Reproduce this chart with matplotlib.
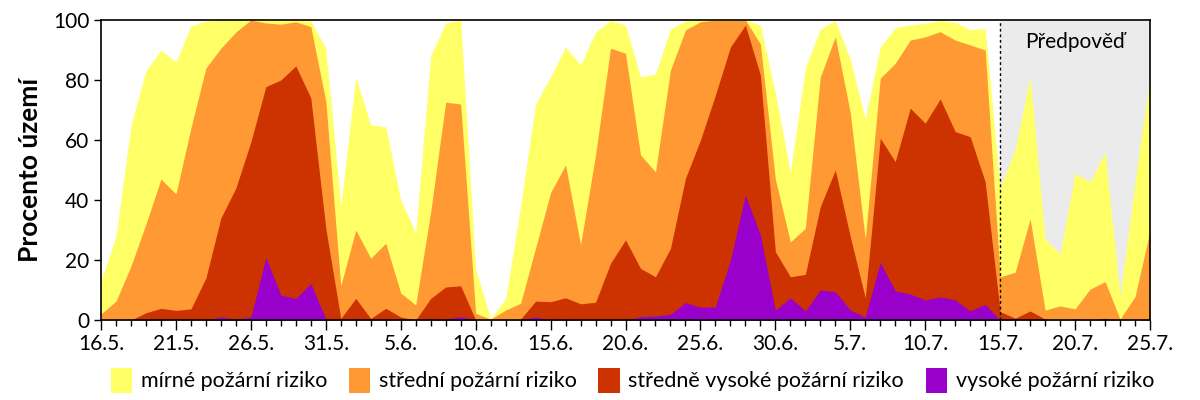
import matplotlib
matplotlib.use("Agg")
import matplotlib.pyplot as plt
from matplotlib.patches import Patch
import numpy as np

plt.rcParams['font.family'] = ['Lato', 'DejaVu Sans']

# days from 16.5. (index 0) to 25.7. (index 70)
days = list(range(71))
tick_days = [0, 5, 10, 15, 20, 25, 30, 35, 40, 45, 50, 55, 60, 65, 70]
tick_labels = ["16.5.", "21.5.", "26.5.", "31.5.", "5.6.", "10.6.", "15.6.", "20.6.",
               "25.6.", "30.6.", "5.7.", "10.7.", "15.7.", "20.7.", "25.7."]
forecast_start = 60

# cumulative percentage of territory with at least the given risk level
mirne = [13, 28, 65, 83, 90, 86, 98, 99.7, 100, 100,
         100, 100, 100, 100, 99.7, 90.6, 38, 81, 65, 64.4,
         40, 29, 88, 99, 100, 17, 0.5, 7, 38, 72,
         81, 91, 85, 96, 99.8, 98.3, 81, 82, 97, 99.7,
         100, 100, 100, 100, 98.3, 75.6, 49, 84, 97, 99.7,
         87, 67, 91, 97.4, 98.3, 98.9, 99.8, 99.2, 96.7, 97.2,
         44, 57, 81, 27, 22, 49, 46, 56, 8, 46, 81]
stredni = [2, 6.3, 18, 32, 47, 42, 64, 84, 90.6, 96,
           100, 99, 98.6, 99.4, 97.8, 73, 11.4, 30, 20.6, 25.6,
           9, 5, 36, 72.6, 72, 2.2, 0.3, 3.3, 5.6, 24,
           42.5, 51.7, 25, 55, 90.6, 88.9, 55, 49.4, 83.3, 96.7,
           99.4, 100, 100, 100, 92, 47, 26, 30.6, 81, 94.4,
           69, 27, 80.6, 85.6, 93.3, 94.4, 96.1, 93.3, 91.7, 90,
           14.4, 15.9, 33.7, 3.3, 4.7, 3.7, 10.3, 12.8, 0.3, 7.8, 29.7]
stredne_vysoke = [0, 0, 0, 2.4, 3.9, 3.2, 3.7, 14, 34, 44,
                  59.4, 77.8, 80, 84.7, 74, 30.6, 0.5, 7.2, 0.5, 3.9,
                  1, 0, 7.2, 11, 11.4, 0, 0, 0, 0.3, 6.3,
                  6.1, 7.4, 5.4, 5.9, 18.9, 26.7, 17.2, 14.4, 23.9, 47.2,
                  60, 75, 91, 98.3, 81.7, 22.8, 14.4, 15.2, 37.8, 50,
                  27.8, 7.4, 60.6, 52.8, 70.6, 65.6, 73.7, 62.8, 61.1, 46.1,
                  2.8, 0.6, 3, 0.3, 0, 0.3, 0, 0.6, 0, 0, 0.3]
vysoke = [0, 0, 0, 0, 0, 0, 0, 0, 1, 0.3,
          1, 20.8, 8.3, 7.2, 12.2, 0.3, 0, 0, 0, 0,
          0, 0, 0, 0.3, 1.1, 0, 0, 0, 0, 1,
          0, 0.3, 0, 0, 0, 0, 1.1, 1.3, 1.9, 5.8,
          4.2, 4.4, 20, 41.7, 28.3, 3.3, 7.4, 3, 10, 9.4,
          3.3, 1, 19.2, 9.7, 8.6, 6.7, 7.7, 6.7, 3, 5.2,
          0, 0, 0, 0, 0, 0, 0, 0, 0, 0, 0]

series = [
    ("mírné požární riziko", mirne, "#FFFF66"),
    ("střední požární riziko", stredni, "#FF9933"),
    ("středně vysoké požární riziko", stredne_vysoke, "#CC3300"),
    ("vysoké požární riziko", vysoke, "#9900CC"),
]

fig = plt.figure(figsize=(12, 4), dpi=100)
ax = fig.add_axes([101 / 1200, 80 / 400, 1049 / 1200, 300 / 400])

ax.axvspan(forecast_start, days[-1], color="#EBEBEB", zorder=0, lw=0)

for label, vals, color in series:
    ax.fill_between(days, 0, vals, color=color, lw=0, zorder=1)

ax.axvline(forecast_start, color="black", lw=1.0, ls=(0, (2, 2)), zorder=3)
ax.text((forecast_start + days[-1]) / 2, 92.5, "Předpověď", ha="center", va="center",
        fontsize=15, zorder=4)

ax.set_xlim(0, days[-1])
ax.set_ylim(0, 100)
ax.set_xticks(tick_days)
ax.set_xticklabels(tick_labels, fontsize=15)
ax.set_xticks(days, minor=True)
ax.set_yticks([0, 20, 40, 60, 80, 100])
ax.tick_params(axis="y", labelsize=15, length=5, width=1)
ax.tick_params(axis="x", which="major", length=7, width=1, pad=3)
ax.tick_params(axis="x", which="minor", length=4, width=1)
ax.set_ylabel("Procento území", fontsize=19, fontweight="bold", labelpad=8)
for s in ax.spines.values():
    s.set_linewidth(1.2)
    s.set_zorder(5)

handles = [Patch(facecolor=c, edgecolor="none", label=l) for l, v, c in series]
fig.legend(handles=handles, loc="lower center", bbox_to_anchor=(0.527, -0.03), ncol=4,
           frameon=False, fontsize=15.5, handlelength=1.0, handleheight=1.4,
           handletextpad=0.4, columnspacing=1.0)

fig.savefig("out.png", dpi=100)
